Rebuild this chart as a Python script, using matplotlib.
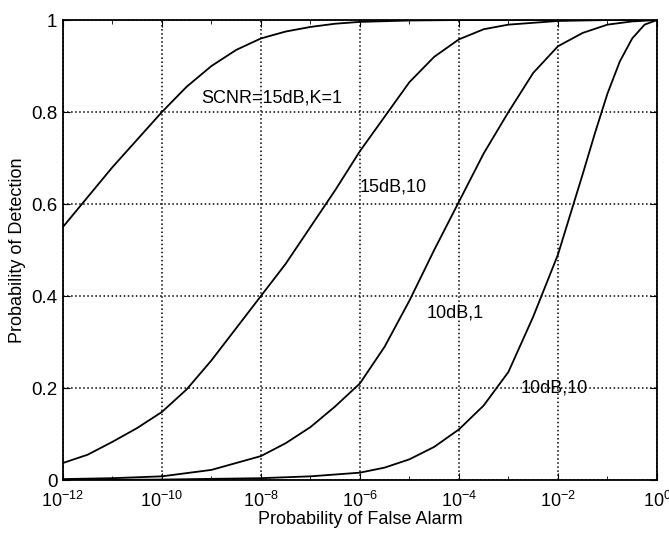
import matplotlib
matplotlib.use("Agg")
import matplotlib.pyplot as plt
import matplotlib.ticker as mticker
import numpy as np

plt.rcParams['font.family'] = ['Liberation Sans', 'DejaVu Sans']
plt.rcParams['mathtext.fontset'] = 'custom'
plt.rcParams['mathtext.rm'] = 'Liberation Sans'
plt.rcParams['mathtext.default'] = 'regular'

# log10(Pfa) and Pd
lx1 = [-12, -11.5, -11, -10.5, -10, -9.5, -9, -8.5, -8, -7.5, -7, -6.5, -6, -5, -4, 0]
pd1 = [0.55, 0.615, 0.68, 0.74, 0.80, 0.855, 0.90, 0.935, 0.96, 0.975, 0.985, 0.992,
       0.996, 0.999, 1.0, 1.0]

lx2 = [-12, -11.5, -11, -10.5, -10, -9.5, -9, -8.5, -8, -7.5, -7, -6.5, -6, -5.5,
       -5, -4.5, -4, -3.5, -3, -2, -1, 0]
pd2 = [0.037, 0.055, 0.083, 0.113, 0.148, 0.197, 0.26, 0.33, 0.40, 0.47, 0.55, 0.63,
       0.715, 0.79, 0.865, 0.92, 0.958, 0.98, 0.99, 0.998, 1.0, 1.0]

lx3 = [-12, -11, -10, -9, -8, -7.5, -7, -6.5, -6, -5.5, -5, -4.5, -4, -3.5, -3,
       -2.5, -2, -1.5, -1, -0.5, 0]
pd3 = [0.002, 0.004, 0.008, 0.022, 0.052, 0.08, 0.115, 0.16, 0.21, 0.29, 0.39, 0.50,
       0.605, 0.71, 0.80, 0.885, 0.943, 0.972, 0.99, 0.997, 1.0]

lx4 = [-12, -10, -8, -7, -6, -5.5, -5, -4.5, -4, -3.5, -3, -2.5, -2, -1.5, -1.25,
       -1, -0.75, -0.5, -0.25, 0]
pd4 = [0.0, 0.001, 0.004, 0.008, 0.016, 0.027, 0.045, 0.072, 0.11, 0.162, 0.235, 0.355,
       0.49, 0.665, 0.755, 0.84, 0.91, 0.96, 0.99, 1.0]

labels = ["SCNR=15dB,K=1", "15dB,10", "10dB,1", "10dB,10"]
label_x = [10**-9.2, 10**-6.0, 10**-4.65, 10**-2.75]
label_y = [0.83, 0.637, 0.363, 0.20]

fig = plt.figure(figsize=(6.69, 5.33), dpi=100)
ax = fig.add_axes([0.094, 0.0994, 0.888, 0.863])

for lx, pd in [(lx1, pd1), (lx2, pd2), (lx3, pd3), (lx4, pd4)]:
    ax.plot(10.0**np.array(lx), pd, color='black', lw=1.3)

for t, x, y in zip(labels, label_x, label_y):
    ax.text(x, y, t, fontsize=13, va='center', ha='left')

ax.set_xscale('log')
ax.set_xlim(1e-12, 1)
ax.set_ylim(0, 1)
ax.xaxis.set_major_locator(mticker.FixedLocator([10.0**k for k in range(-12, 1, 2)]))
ax.xaxis.set_minor_locator(mticker.FixedLocator([10.0**k for k in range(-11, 0, 2)]))
ax.xaxis.set_minor_formatter(mticker.NullFormatter())
ax.set_yticks([0, 0.2, 0.4, 0.6, 0.8, 1])
ax.set_yticklabels(['0', '0.2', '0.4', '0.6', '0.8', '1'])

ax.grid(True, which='major', linestyle=':', color='black', lw=1.1)
ax.tick_params(which='both', direction='in', top=True, right=True)
ax.tick_params(which='major', length=5)
ax.tick_params(which='minor', length=3)
ax.tick_params(axis='x', labelsize=13, pad=8)
ax.tick_params(axis='y', labelsize=13.5, pad=4)
for s in ax.spines.values():
    s.set_linewidth(1.3)

ax.set_xlabel("Probability of False Alarm", fontsize=13, labelpad=0)
ax.set_ylabel("Probability of Detection", fontsize=13, labelpad=4)

fig.savefig("out.png", dpi=100)
